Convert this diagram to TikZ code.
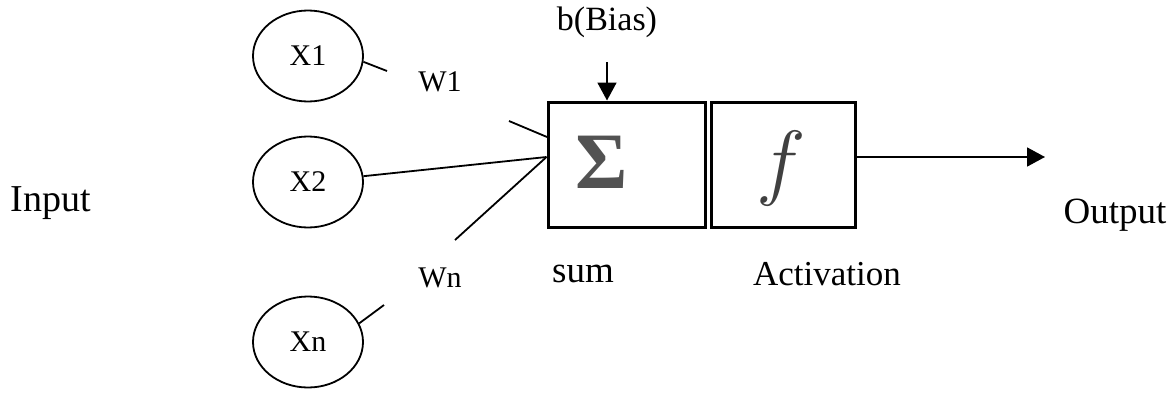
\RequirePackage{fix-cm}
\documentclass[tikz,border=0pt]{standalone}
\usepackage{fontspec}
\setmainfont{Liberation Serif}
\usetikzlibrary{shapes.geometric,arrows.meta}
\begin{document}
\begin{tikzpicture}[x=1pt,y=-1pt,
  inputnode/.style={ellipse,draw,line width=1.8pt,minimum width=110pt,minimum height=91pt,inner sep=0pt,
    font=\fontsize{30}{36}\selectfont},
  unitbox/.style={rectangle,draw,line width=3pt,minimum height=125pt,inner sep=0pt},
  wire/.style={line width=1.8pt},
  arrowwire/.style={line width=1.8pt,-{Triangle[length=18pt,width=19pt]}},
  weightlabel/.style={font=\fontsize{30}{36}\selectfont},
  caption/.style={font=\fontsize{36}{42}\selectfont}]
\useasboundingbox (0,0) rectangle (1171,394);

% inputs
\node[inputnode] (x1) at (308,56) {X1};
\node[inputnode] (x2) at (308,182) {X2};
\node[inputnode] (xn) at (308,342) {Xn};

% summation and activation units
\node[unitbox,minimum width=157pt] (sum) at (626.5,164.5) {};
\node[unitbox,minimum width=144pt] (act) at (783,164.5) {};
\node[text=black!68] (sigma) at (602,162) {\fontsize{80}{90}\selectfont\bfseries Σ};
\node[text=black!75] (fsym) at (781,168) {\fontsize{84}{90}\selectfont$f$};

% labels
\node[caption,font=\fontsize{38}{44}\selectfont] (input) at (51,203) {Input};
\node[caption,font=\fontsize{37}{42}\selectfont] (output) at (1115,215) {Output};
\node[caption,font=\fontsize{37}{42}\selectfont] (sumlbl) at (583,274) {sum};
\node[caption,font=\fontsize{35}{42}\selectfont] (actlbl) at (827,274) {Activation};
\node[caption,font=\fontsize{34}{40}\selectfont] (bias) at (607,22) {b(Bias)};
\node[weightlabel] (w1) at (440,82) {W1};
\node[weightlabel] (wn) at (440,278) {Wn};

% connection points
\coordinate (join) at ([yshift=7.5pt]sum.west);
\coordinate (w1a) at (387,71);
\coordinate (w1b) at (509,121);
\coordinate (w1c) at (547,137);
\coordinate (wna) at (455,240);
\coordinate (xna) at (384,305);
\coordinate (biastop) at (607,62);
\coordinate (outend) at (1045,157);

% weighted connections
\draw[wire] (x1.-6) -- (w1a);
\draw[wire] (w1b) -- (w1c);
\draw[wire] (x2) -- (join);
\draw[wire] (join) -- (wna);
\draw[wire] (xn.20) -- (xna);

% bias and output arrows
\draw[arrowwire] (biastop) -- (biastop |- sum.north);
\draw[arrowwire] ([yshift=7.5pt]act.east) -- (outend);
\end{tikzpicture}
\end{document}
